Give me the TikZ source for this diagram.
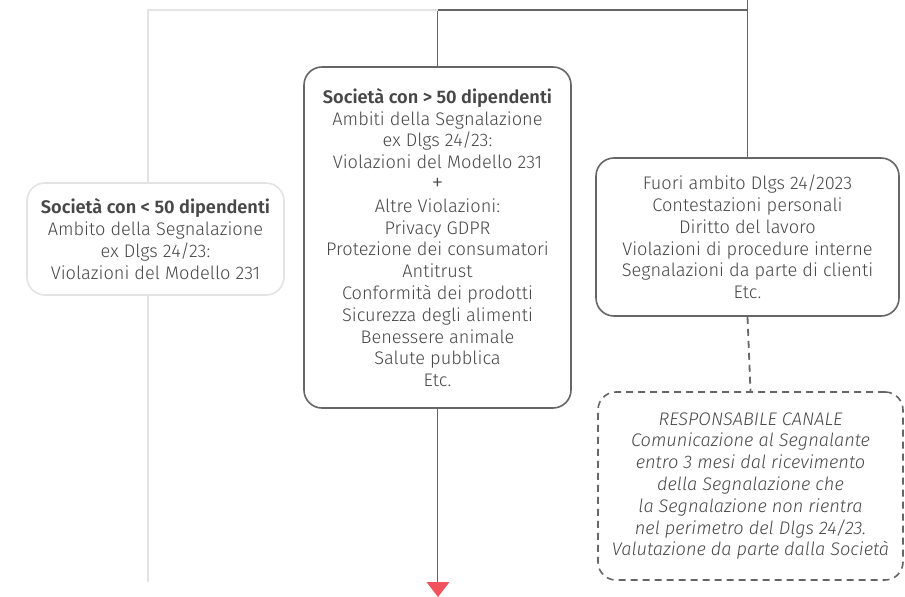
\documentclass[tikz,border=0pt]{standalone}
\usepackage{fontspec}
\setmainfont{Fira Sans}[UprightFont=* Light, BoldFont=* SemiBold, ItalicFont=* Light Italic, BoldItalicFont=* SemiBold Italic]
\definecolor{dk}{HTML}{666666}
\definecolor{lt}{HTML}{E3E3E3}
\definecolor{txt}{HTML}{474747}
\definecolor{arr}{HTML}{F0535B}
\begin{document}
\begin{tikzpicture}[x=1pt,y=-1pt,
  box/.style={draw=dk, line width=1.6pt, rounded corners=18pt, align=center,
    font=\fontsize{18.2}{21.8}\selectfont, text=txt, inner sep=0pt},
  dkline/.style={draw=dk, line width=1.8pt},
  ltline/.style={draw=lt, line width=1.8pt}]
\useasboundingbox (0,0) rectangle (905,597);
\node[box, draw=lt, minimum width=257pt, minimum height=112pt] (small) at (155.5,239)
  {\textbf{Società con < 50 dipendenti}\\Ambito della Segnalazione\\ex Dlgs 24/23:\\Violazioni del Modello 231};
\node[box, minimum width=267pt, minimum height=341pt] (big) at (437.5,237.5)
  {\textbf{Società con > 50 dipendenti}\\Ambiti della Segnalazione\\ex Dlgs 24/23:\\Violazioni del Modello 231\\{\fontsize{24}{21.8}\selectfont +}\\Altre Violazioni:\\Privacy GDPR\\Protezione dei consumatori\\Antitrust\\Conformità dei prodotti\\Sicurezza degli alimenti\\Benessere animale\\Salute pubblica\\Etc.};
\node[box, minimum width=303pt, minimum height=158pt] (out) at (747.5,237)
  {Fuori ambito Dlgs 24/2023\\Contestazioni personali\\Diritto del lavoro\\Violazioni di procedure interne\\Segnalazioni da parte di clienti\\Etc.};
\node[box, dash pattern=on 7pt off 5pt, minimum width=305pt, minimum height=188pt, font=\fontsize{18.2}{21.8}\selectfont\itshape] (resp) at (750.5,486)
  {RESPONSABILE CANALE\\Comunicazione al Segnalante\\entro 3 mesi dal ricevimento\\della Segnalazione che\\la Segnalazione non rientra\\nel perimetro del Dlgs 24/23.\\Valutazione da parte dalla Società};
\coordinate (top) at (747.5,0);
\coordinate (jr) at (747.5,10);
\coordinate (jm) at (437.5,10);
\coordinate (jl) at (148,10);
\coordinate (lend) at (148,582);
\coordinate (mend) at (437.5,583);
\draw[dkline] (top) -- (out.north);
\draw[dkline] (jr) -- (jm) -- (big.north);
\draw[ltline] (jm) -- (jl) -- (jl |- small.north);
\draw[ltline] (jl |- small.south) -- (lend);
\draw[dkline] (big.south) -- (mend);
\draw[dkline, dash pattern=on 7pt off 5pt] (out.south) -- (resp.north);
\fill[arr] (426.5,582) -- (449.5,582) -- (438,597) -- cycle;
\end{tikzpicture}
\end{document}
